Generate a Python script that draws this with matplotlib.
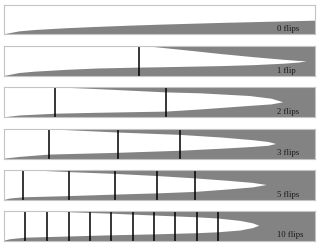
import numpy as np
import matplotlib.pyplot as plt

# Position entlang des Balkens (0..1), Rand der weissen Flaeche (0 unten, 1 oben)
labels = ['0 flips', '1 flip', '2 flips', '3 flips', '5 flips', '10 flips']

flips = [
    [],
    [0.434],
    [0.165, 0.521],
    [0.145, 0.367, 0.566],
    [0.062, 0.209, 0.357, 0.491, 0.615],
    [0.068, 0.139, 0.208, 0.277, 0.345, 0.414, 0.482, 0.551, 0.620, 0.688],
]

lower_x = [
    [0, 0.05, 0.1, 0.2, 0.3, 0.4, 0.5, 0.6, 0.7, 0.8, 0.9, 1.0],
    [0, 0.05, 0.1, 0.2, 0.3, 0.434, 0.5, 0.6, 0.7, 0.8, 0.9, 0.95, 0.973],
    [0, 0.05, 0.165, 0.3, 0.521, 0.63, 0.79, 0.86, 0.898],
    [0, 0.05, 0.145, 0.367, 0.566, 0.7, 0.8, 0.85, 0.875],
    [0, 0.02, 0.062, 0.209, 0.357, 0.491, 0.615, 0.72, 0.8, 0.845],
    [0, 0.02, 0.068, 0.208, 0.345, 0.482, 0.62, 0.688, 0.76, 0.80, 0.821],
]
lower_y = [
    [0, 0.10, 0.145, 0.205, 0.25, 0.29, 0.325, 0.355, 0.385, 0.41, 0.435, 0.46],
    [0, 0.10, 0.145, 0.205, 0.25, 0.28, 0.29, 0.31, 0.33, 0.36, 0.41, 0.45, 0.5],
    [0, 0.06, 0.12, 0.15, 0.19, 0.26, 0.38, 0.43, 0.5],
    [0, 0.06, 0.14, 0.20, 0.27, 0.34, 0.40, 0.44, 0.5],
    [0, 0.05, 0.09, 0.13, 0.18, 0.22, 0.27, 0.35, 0.42, 0.5],
    [0, 0.05, 0.10, 0.14, 0.18, 0.21, 0.25, 0.28, 0.34, 0.42, 0.5],
]

upper_x = [
    [0, 1.0],
    [0, 0.45, 0.6, 0.7, 0.8, 0.9, 0.95, 0.973],
    [0, 0.165, 0.3, 0.521, 0.63, 0.79, 0.86, 0.898],
    [0, 0.145, 0.367, 0.566, 0.7, 0.8, 0.85, 0.875],
    [0, 0.062, 0.209, 0.357, 0.491, 0.615, 0.72, 0.8, 0.845],
    [0, 0.068, 0.208, 0.345, 0.482, 0.62, 0.688, 0.76, 0.80, 0.821],
]
upper_y = [
    [1.0, 1.0],
    [1.0, 1.0, 0.84, 0.73, 0.63, 0.54, 0.5, 0.5],
    [1.0, 1.0, 0.94, 0.83, 0.80, 0.71, 0.62, 0.5],
    [1.0, 1.0, 0.89, 0.81, 0.72, 0.63, 0.57, 0.5],
    [1.0, 1.0, 0.93, 0.87, 0.80, 0.72, 0.64, 0.57, 0.5],
    [1.0, 1.0, 0.95, 0.90, 0.84, 0.78, 0.74, 0.66, 0.58, 0.5],
]

# Pixelzeilen der Balken (oben, unten)
rows = [(4.7, 34.3), (46, 76), (87.3, 117.3), (129.3, 158.7), (170, 200), (210.7, 240.7)]

W, H = 320, 245
fig = plt.figure(figsize=(W / 100, H / 100), dpi=100)

for i in range(6):
    top, bot = rows[i]
    ax = fig.add_axes([4 / W, 1 - bot / H, 311 / W, (bot - top) / H])
    ax.set_facecolor('#838383')
    px = np.r_[lower_x[i], upper_x[i][::-1]]
    py = np.r_[lower_y[i], upper_y[i][::-1]]
    ax.fill(px, py, color='white', lw=0)
    for f in flips[i]:
        ax.axvline(f, color='black', lw=1.1)
    ax.text(0.879, 0.11, labels[i], fontsize=6.2, family='Liberation Serif',
            color='#1a1a1a', ha='left', va='baseline')
    ax.set_xlim(0, 1)
    ax.set_ylim(0, 1)
    ax.set_xticks([])
    ax.set_yticks([])
    for s in ax.spines.values():
        s.set_color('#c4c4c4')
        s.set_linewidth(0.8)

fig.savefig('out.png', dpi=100)
